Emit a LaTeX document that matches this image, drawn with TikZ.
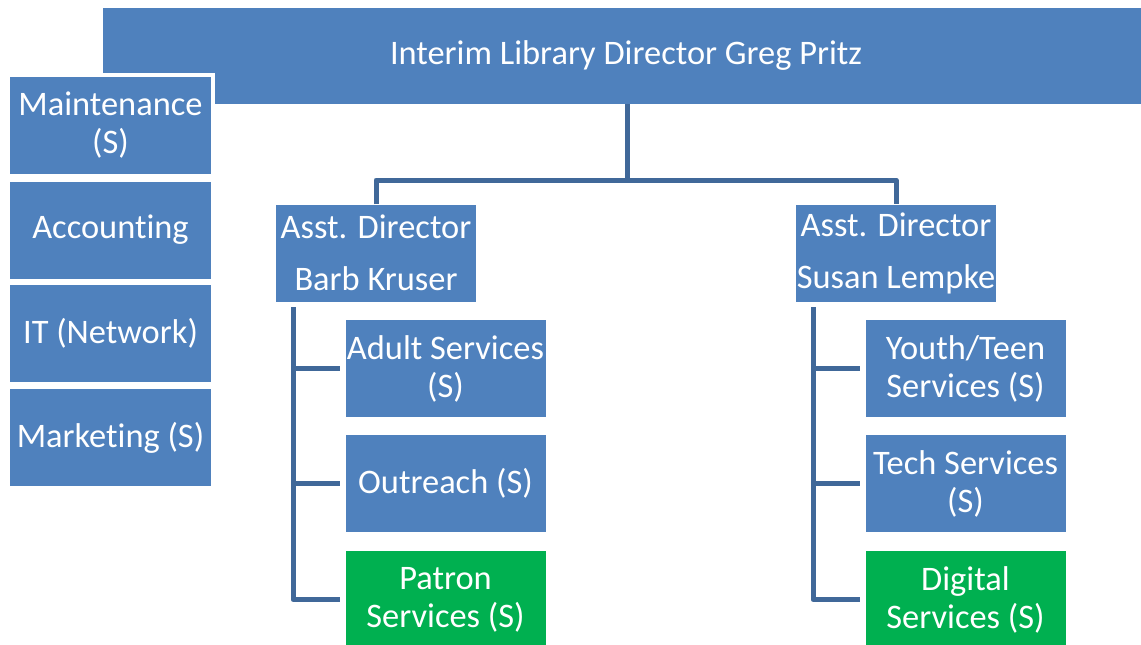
\documentclass[tikz,border=0pt]{standalone}
\usepackage{fontspec}
\setmainfont{Carlito}[Ligatures=NoCommon]
\definecolor{boxblue}{RGB}{79,129,189}
\definecolor{linkblue}{RGB}{64,104,153}
\definecolor{boxgreen}{RGB}{0,176,80}
\tikzset{
  unitbox/.style={rectangle, fill=boxblue, text=white, inner sep=0pt, align=center,
    minimum width=200pt, minimum height=97pt, font=\fontsize{34.4}{38}\selectfont},
  sidebox/.style={unitbox, draw=white, line width=4pt, minimum width=205pt, minimum height=101pt},
  greenbox/.style={unitbox, fill=boxgreen},
  link/.style={draw=linkblue, line width=5pt, line join=round}
}
\begin{document}
\begin{tikzpicture}[x=1pt,y=-1pt]
\useasboundingbox (0,0) rectangle (1141,645);
\clip (0,0) rectangle (1141,645);

% director
\node[unitbox, minimum width=1046pt, minimum height=96pt] (dir) at (626,56)
  {Interim Library Director Greg Pritz};

% staff functions down the left side
\node[sidebox] (maint) at (110.5,125.5) {Maintenance\\(S)};
\node[sidebox] (acct)  at (110.5,230)   {Accounting};
\node[sidebox] (it)    at (110.5,333.5) {IT (Network)};
\node[sidebox] (mkt)   at (110.5,437.5) {Marketing (S)};

% assistant directors
\node[unitbox] (barb)  at (376,253) {Asst. Director\\[14pt]Barb Kruser};
\node[unitbox] (susan) at (896,253) {Asst. Director\\[14pt]Susan Lempke};

% departments under Barb Kruser
\node[unitbox]  (adult)  at (445.5,368.5) {Adult Services\\(S)};
\node[unitbox]  (outr)   at (445.5,483.5) {Outreach (S)};
\node[greenbox] (patron) at (445.5,599.5) {Patron\\Services (S)};

% departments under Susan Lempke
\node[unitbox]  (youth)   at (965.5,368.5) {Youth/Teen\\Services (S)};
\node[unitbox]  (tech)    at (965.5,483.5) {Tech Services\\(S)};
\node[greenbox] (digital) at (965.5,599.5) {Digital\\Services (S)};

% director to assistant directors
\coordinate (bus) at (627,180);
\draw[link] (dir.south -| bus) -- (bus);
\draw[link] (barb.north) |- (bus) -| (susan.north);

% assistant directors to their departments
\coordinate (lrail) at (293,307);
\coordinate (rrail) at (813,307);
\draw[link] (lrail) |- ([xshift=-5pt]patron.west);
\draw[link] (lrail |- adult.west) -- ([xshift=-5pt]adult.west);
\draw[link] (lrail |- outr.west) -- ([xshift=-5pt]outr.west);
\draw[link] (rrail) |- ([xshift=-5pt]digital.west);
\draw[link] (rrail |- youth.west) -- ([xshift=-5pt]youth.west);
\draw[link] (rrail |- tech.west) -- ([xshift=-5pt]tech.west);
\end{tikzpicture}
\end{document}
